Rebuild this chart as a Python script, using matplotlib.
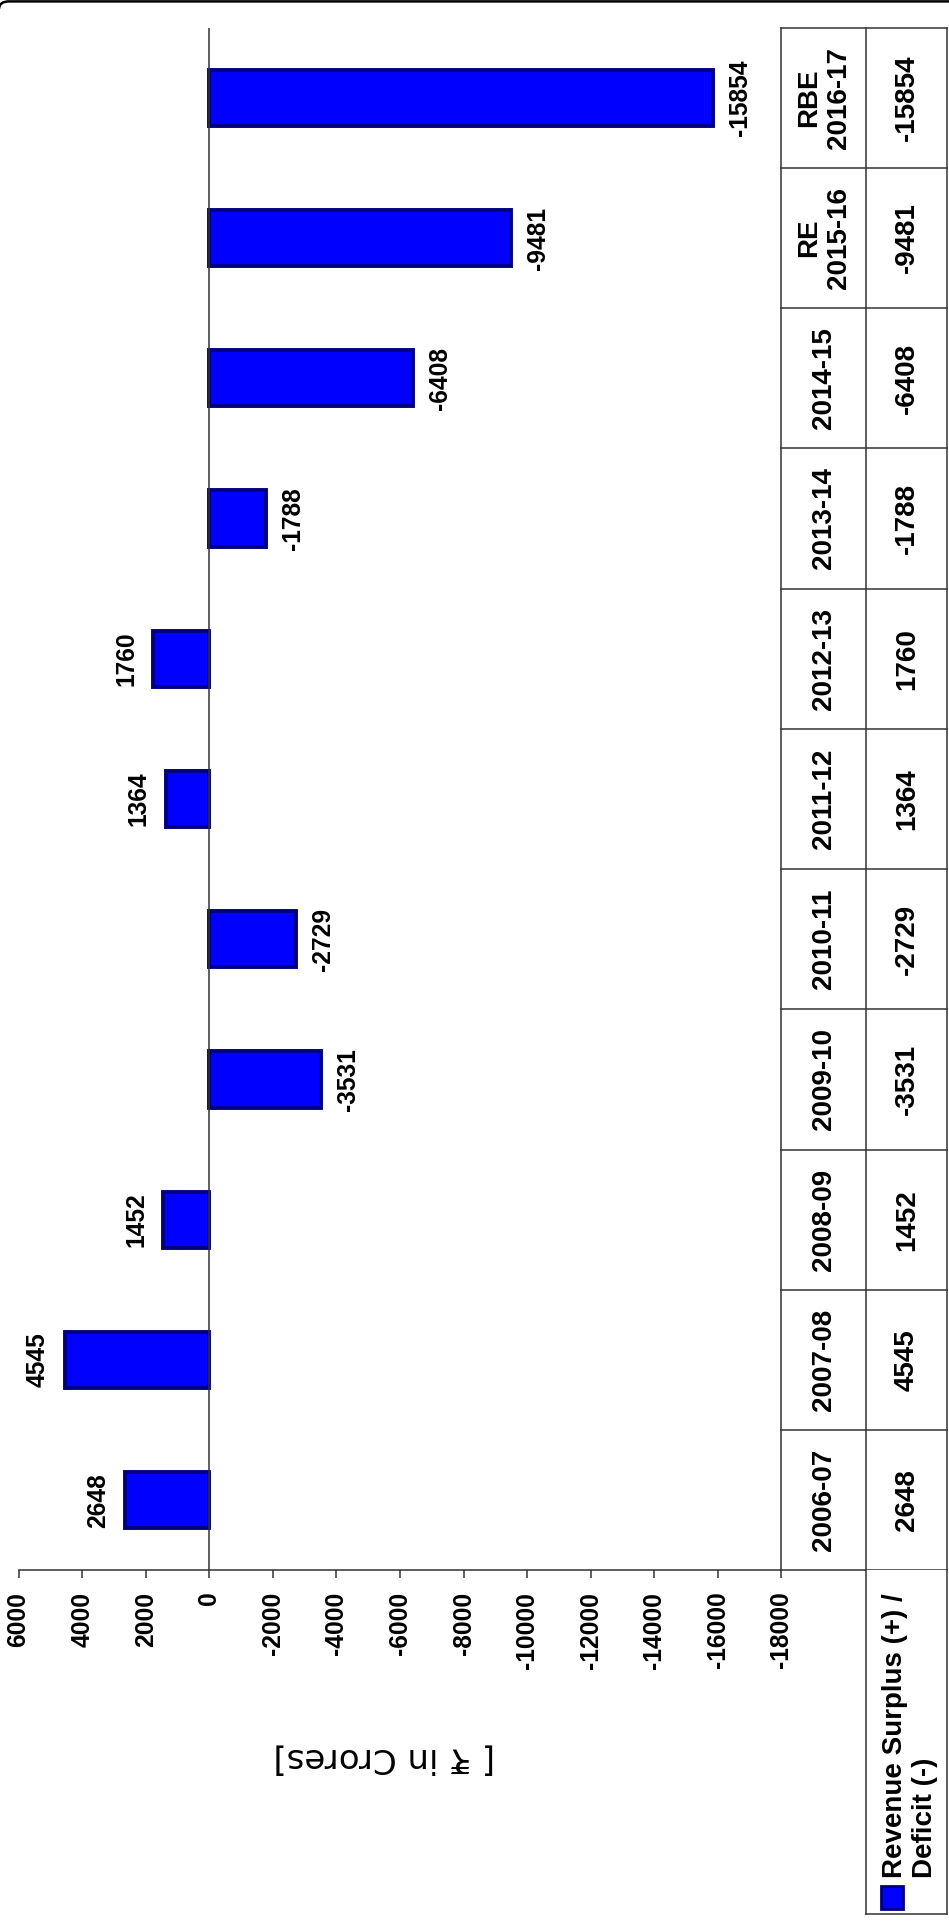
import matplotlib
matplotlib.use('Agg')
import matplotlib.pyplot as plt
from matplotlib.patches import PathPatch, Rectangle
from matplotlib.path import Path

plt.rcParams['font.family'] = ['Liberation Sans', 'DejaVu Sans']

# data (bottom to top as drawn)
years = ['2006-07', '2007-08', '2008-09', '2009-10', '2010-11', '2011-12',
         '2012-13', '2013-14', '2014-15', 'RE\n2015-16', 'RBE\n2016-17']
surplus = [2648, 4545, 1452, -3531, -2729, 1364, 1760, -1788, -6408, -9481, -15854]
series_name = 'Revenue Surplus (+) /\nDeficit (-)'
unit_label = '[ \u20b9 in Crores]'
value_ticks = list(range(6000, -18001, -2000))

# layout, pixels measured from the top-left corner
W, H = 949, 1923
plot_l, plot_r = 18.6, 781.3
plot_t, plot_b = 27.7, 1570.3
tab_r = 947.3
col_split = 866.3
leg_b = 1913.7
line_c = '#333333'


def box(l, t, r, b):
    return [l / W, 1 - b / H, (r - l) / W, (b - t) / H]


def fpt(x, y):
    # pixel (from top-left) -> figure fraction
    return (x / W, 1 - y / H)


fig = plt.figure(figsize=(W / 100, H / 100), dpi=100)
ax = fig.add_axes(box(plot_l, plot_t, plot_r, plot_b))
tab = fig.add_axes(box(plot_r, plot_t, tab_r, plot_b), sharey=ax)
leg = fig.add_axes(box(col_split, plot_b, tab_r, leg_b))

# bars
pos = list(range(len(years)))
ax.barh(pos, surplus, height=0.40, color='#0000ff', edgecolor='#000080', linewidth=2.8)
ax.set_xlim(6000, -18000)
ax.set_ylim(-0.5, len(years) - 0.5)
ax.set_xticks(value_ticks)
ax.set_xticklabels([str(t) for t in value_ticks], rotation=90,
                   fontsize=17.7, fontweight='bold')
ax.set_yticks([])
ax.tick_params(axis='x', length=5.8, width=1.1, color=line_c, pad=9.6)
for s in ['top', 'left', 'right']:
    ax.spines[s].set_visible(False)
ax.spines['bottom'].set_color(line_c)
ax.spines['bottom'].set_linewidth(1.1)
ax.axvline(0, color=line_c, lw=1.1, zorder=1)

# value labels just past the bar ends
for i, v in enumerate(surplus):
    ax.annotate(str(v), (v, i), xytext=(-27 if v > 0 else 27, 0),
                textcoords='offset pixels', rotation=90, ha='center',
                va='center', fontsize=17.7, fontweight='bold')

ax.text((384 - plot_l) / (plot_r - plot_l), (plot_b - 1758) / (plot_b - plot_t),
        unit_label, transform=ax.transAxes, rotation=180, ha='center',
        va='center', fontsize=24.5, family=['DejaVu Sans'])

# data table
tab.set_xlim(0, 1)
tab.axis('off')
split = (col_split - plot_r) / (tab_r - plot_r)
for k in range(len(years) + 1):
    tab.plot([0, 1], [k - 0.5, k - 0.5], color=line_c, lw=1.1, clip_on=False)
for x in [0, split, 1]:
    tab.plot([x, x], [-0.5, len(years) - 0.5], color=line_c, lw=1.1, clip_on=False)
for i, (yr, v) in enumerate(zip(years, surplus)):
    tab.text(split / 2, i, yr, rotation=90, ha='center', va='center',
             multialignment='center', fontsize=20, fontweight='bold')
    tab.text((1 + split) / 2, i, str(v), rotation=90, ha='center', va='center',
             fontsize=20, fontweight='bold')

# legend cell
leg.set_xlim(col_split, tab_r)
leg.set_ylim(leg_b, plot_b)
leg.set_xticks([])
leg.set_yticks([])
leg.spines['top'].set_visible(False)
for s in ['left', 'right', 'bottom']:
    leg.spines[s].set_color(line_c)
    leg.spines[s].set_linewidth(1.1)
leg.add_patch(Rectangle((881.3, 1886), 21.7, 22.7, facecolor='#0000ff',
                        edgecolor='#000080', lw=2))
leg.text(910.5, 1878, series_name, rotation=90, rotation_mode='anchor',
         ha='left', va='center', multialignment='left', fontsize=20,
         fontweight='bold')

# outer frame: only its top edge and the top-left corner are in view
frame = Path([fpt(-1, 9), fpt(-1, 1.4), fpt(9, 1.4), fpt(W + 5, 1.4)],
             [Path.MOVETO, Path.CURVE3, Path.CURVE3, Path.LINETO])
fig.add_artist(PathPatch(frame, transform=fig.transFigure, fill=False,
                         edgecolor='black', lw=1.8))

fig.savefig('out.png', dpi=100)
